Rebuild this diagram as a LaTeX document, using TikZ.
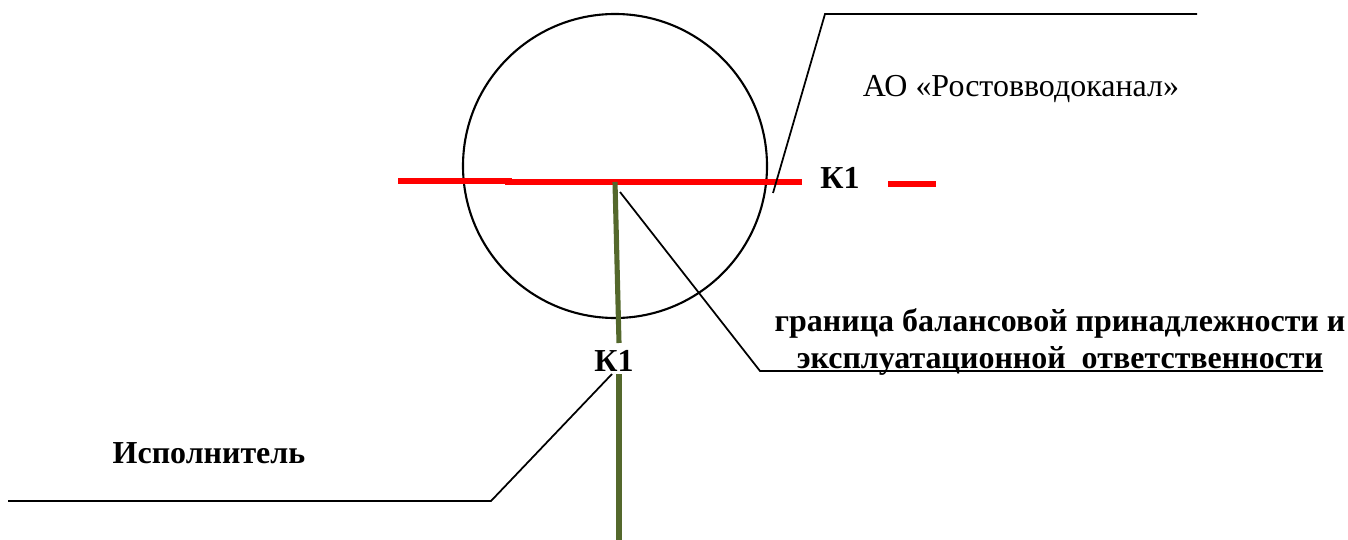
\documentclass[tikz,border=0pt]{standalone}
\usepackage{fontspec}
\setmainfont{Liberation Serif}
\usepackage{xcolor}
\usetikzlibrary{positioning}
\definecolor{olivepipe}{RGB}{84,104,44}

\begin{document}
\begin{tikzpicture}[x=0.02cm,y=-0.02cm,
    lbl/.style={inner sep=0pt,anchor=base,font=\fontsize{18.2}{20}\selectfont},
    blbl/.style={lbl,font=\fontsize{18.2}{20}\selectfont\bfseries},
    redpipe/.style={draw=red,line width=3.2pt},
    greenpipe/.style={draw=olivepipe,line width=2.9pt},
    leader/.style={draw=black,line width=1pt}
  ]
  \useasboundingbox (0,0) rectangle (1348,540);

  % well
  \coordinate (well) at (615,166);
  \draw[line width=1.2pt] (well) circle[radius=152];

  % pipes
  \coordinate (rl) at (398,181);
  \coordinate (rm) at (512,181);
  \coordinate (rn) at (505,182);
  \coordinate (junc) at (615,182);
  \coordinate (rr) at (802,182);
  \draw[redpipe] (rl) -- (rm);
  \draw[redpipe] (rn) -- (junc) -- (rr);
  \coordinate (dl) at (888,184);
  \coordinate (dr) at (936,184);
  \draw[redpipe] (dl) -- (dr);

  \coordinate (g1) at (619,343);
  \coordinate (g2) at (619,374);
  \coordinate (g3) at (619,540);
  \draw[greenpipe] (junc) -- (g1);
  \draw[greenpipe] (g2) -- (g3);

  % labels
  \node[lbl] (ao) at (1021,97) {АО «Ростовводоканал»};
  \node[blbl] (k1r) at (840,189) {К1};
  \node[blbl] (k1g) at (614,371) {К1};
  \node[blbl] (isp) at (209,463) {Исполнитель};
  \node[blbl,align=center,font=\fontsize{18.2}{21}\selectfont\bfseries]
    (bnd) at (1060,368)
    {граница балансовой принадлежности и\\эксплуатационной\ \ ответственности};

  % leaders
  \coordinate (aoa) at (773,193);
  \coordinate (aob) at (825,14);
  \coordinate (aoc) at (1197,14);
  \draw[leader] (aoa) -- (aob) -- (aoc);

  \coordinate (ba) at (620,192);
  \coordinate (bb) at (760,371);
  \coordinate (bc) at (1323,371);
  \draw[leader] (ba) -- (bb) -- (bc);

  \coordinate (ia) at (8,501);
  \coordinate (ib) at (491,501);
  \coordinate (ic) at (612,374);
  \draw[leader] (ia) -- (ib) -- (ic);
\end{tikzpicture}
\end{document}
